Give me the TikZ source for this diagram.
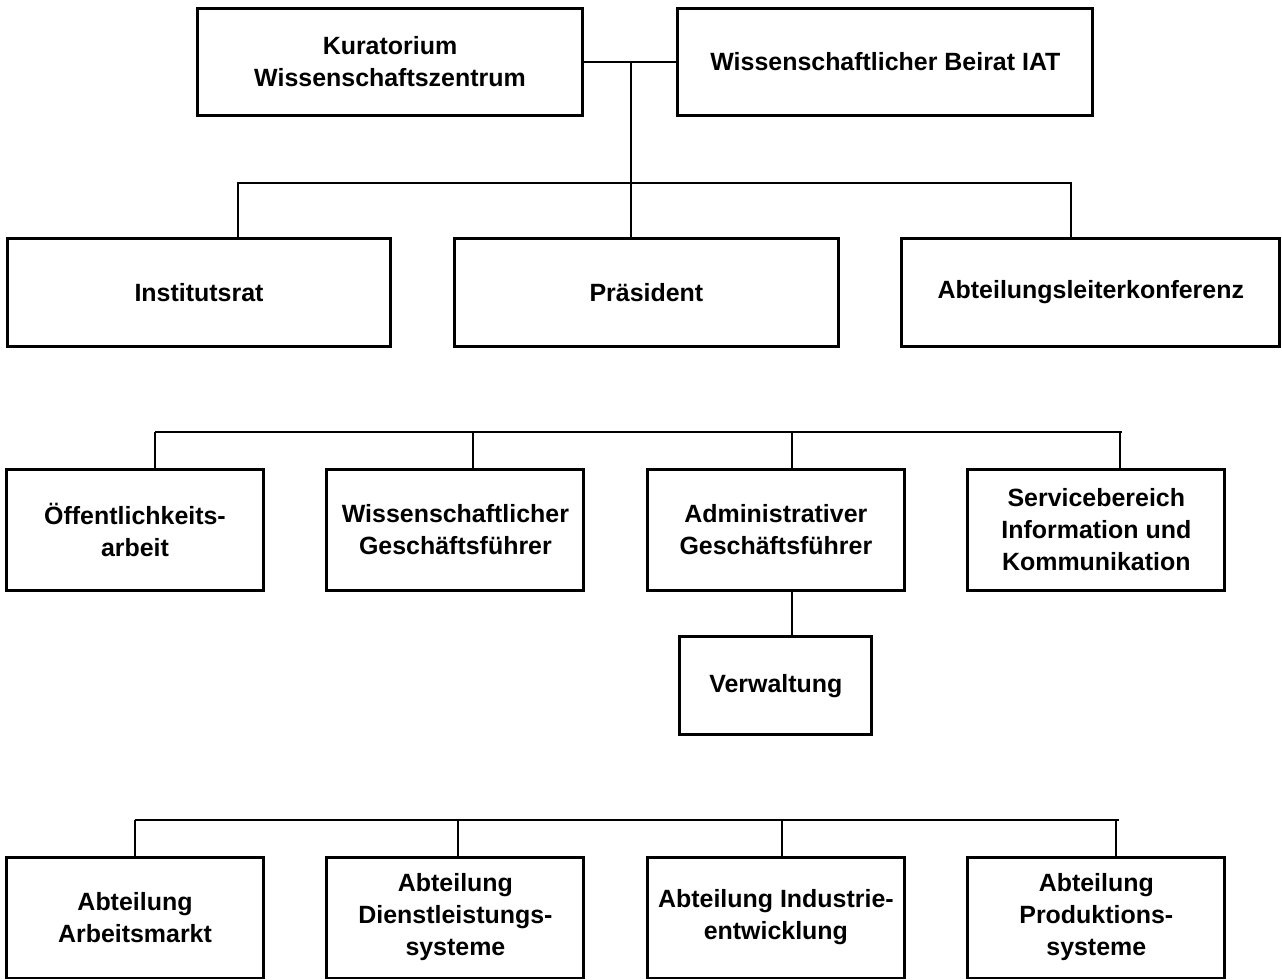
\documentclass[tikz,border=0pt]{standalone}
\usepackage{fontspec}
\setmainfont{Liberation Sans}
\usetikzlibrary{positioning}

\begin{document}
\begin{tikzpicture}[
		x=0.02cm, y=-0.02cm,
		node distance=1.27cm,
		box/.style={draw, line width=1.7pt, inner sep=0pt, outer sep=0pt, align=center,
			font=\fontsize{14.2}{18.2}\selectfont\bfseries},
		board/.style={box, minimum width=7.68cm, minimum height=2.18cm},
		staff/.style={box, minimum width=5.14cm, minimum height=2.44cm},
		dept/.style={box, minimum width=5.14cm, minimum height=2.42cm},
		wire/.style={line width=0.85pt},
	]
		\useasboundingbox (0,0) rectangle (1282,980);

		% top level
		\node [box, minimum width=7.72cm, minimum height=2.16cm] (kur) at (390,62) {Kuratorium\\Wissenschaftszentrum};
		\node [box, minimum width=8.3cm, minimum height=2.16cm, right=1.9cm of kur] (beirat) {Wissenschaftlicher Beirat IAT};

		% management
		\node [board] (inst) at (199,292.5) {Institutsrat};
		\node [board, right=of inst] (praes) {Präsident};
		\node [board, minimum width=7.56cm, right=of praes] (abtk) {Abteilungsleiterkonferenz};

		% staff units
		\node [staff] (oeff) at (135,530) {Öffentlichkeits-\\arbeit};
		\node [staff, right=of oeff] (wgf) {Wissenschaftlicher\\Geschäftsführer};
		\node [staff, right=of wgf] (agf) {Administrativer\\Geschäftsführer};
		\node [staff, right=of agf] (svc) {Servicebereich\\Information und\\Kommunikation};
		\node [box, minimum width=3.84cm, minimum height=1.96cm, below=0.92cm of agf] (verw) {Verwaltung};

		% departments
		\node [dept] (arb) at (135,917.5) {Abteilung\\Arbeitsmarkt};
		\node [dept, right=of arb] (dienst) {Abteilung\\Dienstleistungs-\\systeme};
		\node [dept, right=of dienst] (ind) {Abteilung Industrie-\\entwicklung};
		\node [dept, right=of ind] (prod) {Abteilung\\Produktions-\\systeme};

		\coordinate (join) at (631,62);
		\draw [wire] (kur.east) -- (beirat.west);
		\draw [wire] (join) -- (join |- praes.north);

		\coordinate (b2l) at (238,183);
		\coordinate (b2r) at (1071,183);
		\draw [wire] (b2l |- inst.north) -- (b2l) -- (b2r) -- (b2r |- abtk.north);

		\foreach \n/\x in {oeff/155, wgf/473, agf/792, svc/1120} {
			\coordinate (tap-\n) at (\x,432);
			\draw [wire] (tap-\n) -- (tap-\n |- \n.north);
		}
		\coordinate (b3r) at (1122,432);
		\draw [wire] (tap-oeff) -- (b3r);
		\draw [wire] (tap-agf |- agf.south) -- (tap-agf |- verw.north);

		\foreach \n/\x in {arb/135, dienst/458, ind/782, prod/1116} {
			\coordinate (tap-\n) at (\x,820);
			\draw [wire] (tap-\n) -- (tap-\n |- \n.north);
		}
		\coordinate (b4r) at (1119,820);
		\draw [wire] (tap-arb) -- (b4r);
	\end{tikzpicture}
\end{document}
